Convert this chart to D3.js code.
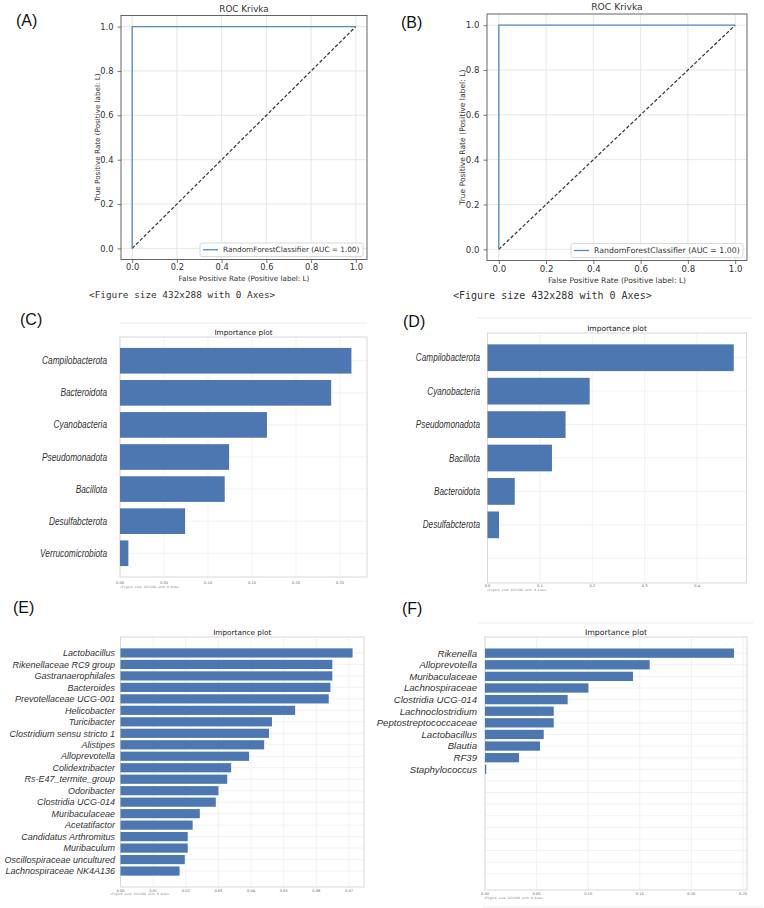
<!DOCTYPE html>
<meta charset="utf-8">
<html>
<head>
<script src="https://cdnjs.cloudflare.com/ajax/libs/d3/7.8.5/d3.min.js"></script>
<style>
  body { margin: 0; background: #fff; }
</style>
</head>
<body>
<div id="fig"></div>
<script>

// ---- data ----
// ROC curve (identical in A and B: a perfect classifier)
var rocFpr = [0, 0, 1];
var rocTpr = [0, 1, 1];
var rocTicks = [0, 0.2, 0.4, 0.6, 0.8, 1.0];
var rocLegend = "RandomForestClassifier (AUC = 1.00)";
var rocTitle = "ROC Krivka";
var figNote = "<Figure size 432x288 with 0 Axes>";

// C: phyla importance
var phylaC = ["Campilobacterota", "Bacteroidota", "Cyanobacteria", "Pseudomonadota",
              "Bacillota", "Desulfabcterota", "Verrucomicrobiota"];
var importanceC = [0.263, 0.240, 0.167, 0.124, 0.119, 0.074, 0.0095];
var ticksC = [0, 0.05, 0.10, 0.15, 0.20, 0.25];

// D: phyla importance (7 slots, last one empty)
var phylaD = ["Campilobacterota", "Cyanobacteria", "Pseudomonadota", "Bacillota",
              "Bacteroidota", "Desulfabcterota"];
var importanceD = [0.470, 0.195, 0.149, 0.123, 0.052, 0.022];
var ticksD = [0, 0.1, 0.2, 0.3, 0.4];

// E: genera importance
var generaE = ["Lactobacillus", "Rikenellaceae RC9 group", "Gastranaerophilales", "Bacteroides",
               "Prevotellaceae UCG-001", "Helicobacter", "Turicibacter", "Clostridium sensu stricto 1",
               "Alistipes", "Alloprevotella", "Colidextribacter", "Rs-E47_termite_group",
               "Odoribacter", "Clostridia UCG-014", "Muribaculaceae", "Acetatifactor",
               "Candidatus Arthromitus", "Muribaculum", "Oscillospiraceae uncultured",
               "Lachnospiraceae NK4A136"];
var importanceE = [0.0711, 0.0649, 0.0649, 0.0643, 0.0638, 0.0535, 0.0464, 0.0455, 0.0440, 0.0394,
                   0.0339, 0.0327, 0.0300, 0.0292, 0.0243, 0.0221, 0.0206, 0.0206, 0.0197, 0.0181];
var ticksE = [0, 0.01, 0.02, 0.03, 0.04, 0.05, 0.06, 0.07];

// F: genera importance (20 slots, 11 used)
var generaF = ["Rikenella", "Alloprevotella", "Muribaculaceae", "Lachnospiraceae", "Clostridia UCG-014",
               "Lachnoclostridium", "Peptostreptococcaceae", "Lactobacillus", "Blautia", "RF39",
               "Staphylococcus"];
var importanceF = [0.2413, 0.1596, 0.1434, 0.1002, 0.0801, 0.0666, 0.0666, 0.0569, 0.0533, 0.0330, 0.0012];
var ticksF = [0, 0.05, 0.10, 0.15, 0.20, 0.25];

// ---- drawing ----
var W = 764, H = 908;
var barColor = "#4c77b0";
var rocColor = "#5289bb";

var svg = d3.select("#fig").append("svg")
  .attr("width", W).attr("height", H)
  .style("background-color", "#fff");

function panelLetter(txt, x, y) {
  svg.append("text").attr("x", x).attr("y", y)
    .attr("font-family", "Liberation Sans, Arial, sans-serif")
    .attr("font-size", 16).attr("fill", "#111")
    .text(txt);
}

function drawRoc(p) {
  var x = d3.scaleLinear().domain([-0.05, 1.05]).range([p.left, p.right]);
  var y = d3.scaleLinear().domain([-0.05, 1.05]).range([p.bottom, p.top]);
  var g = svg.append("g");
  var font = "DejaVu Sans, sans-serif";

  // grid
  g.selectAll(".gx").data(rocTicks).enter().append("line")
    .attr("x1", function(d){ return x(d); }).attr("x2", function(d){ return x(d); })
    .attr("y1", p.top).attr("y2", p.bottom)
    .attr("stroke", "#dfe7df").attr("stroke-width", 0.9);
  g.selectAll(".gy").data(rocTicks).enter().append("line")
    .attr("y1", function(d){ return y(d); }).attr("y2", function(d){ return y(d); })
    .attr("x1", p.left).attr("x2", p.right)
    .attr("stroke", "#dfe7df").attr("stroke-width", 0.9);

  // axes
  var xa = g.append("g").attr("transform", "translate(0," + p.bottom + ")")
    .call(d3.axisBottom(x).tickValues(rocTicks).tickFormat(d3.format(".1f")).tickSize(3.5).tickPadding(1.5));
  var ya = g.append("g").attr("transform", "translate(" + p.left + ",0)")
    .call(d3.axisLeft(y).tickValues(rocTicks).tickFormat(d3.format(".1f")).tickSize(3.5).tickPadding(4));
  [xa, ya].forEach(function(a) {
    a.select(".domain").remove();
    a.selectAll("line").attr("stroke", "#555").attr("stroke-width", 0.8);
    a.selectAll("text").attr("font-family", font).attr("font-size", p.tickFs).attr("fill", "#333");
  });

  // frame
  g.append("rect").attr("x", p.left).attr("y", p.top)
    .attr("width", p.right - p.left).attr("height", p.bottom - p.top)
    .attr("fill", "none").attr("stroke", "#555").attr("stroke-width", 0.9);

  // chance line
  g.append("line").attr("x1", x(0)).attr("y1", y(0)).attr("x2", x(1)).attr("y2", y(1))
    .attr("stroke", "#333").attr("stroke-width", 1.2).attr("stroke-dasharray", "3.5,2");

  // roc curve
  var pts = rocFpr.map(function(d, i){ return [d, rocTpr[i]]; });
  g.append("path").datum(pts)
    .attr("d", d3.line().x(function(d){ return x(d[0]); }).y(function(d){ return y(d[1]); }))
    .attr("fill", "none").attr("stroke", rocColor).attr("stroke-width", 1.3);

  // legend
  var lg = g.append("g").attr("transform", "translate(" + p.legX + "," + p.legY + ")");
  lg.append("rect").attr("width", p.legW).attr("height", p.legH).attr("rx", 2)
    .attr("fill", "#fff").attr("fill-opacity", 0.85).attr("stroke", "#cfcfcf").attr("stroke-width", 0.8);
  lg.append("line").attr("x1", 3).attr("x2", 18).attr("y1", p.legH / 2).attr("y2", p.legH / 2)
    .attr("stroke", rocColor).attr("stroke-width", 1.3);
  lg.append("text").attr("x", 23).attr("y", p.legH / 2).attr("dy", "0.35em")
    .attr("font-family", font).attr("font-size", p.legFs).attr("fill", "#333")
    .text(rocLegend);

  // title and labels
  var cx = (p.left + p.right) / 2;
  g.append("text").attr("x", cx).attr("y", p.titleY).attr("text-anchor", "middle")
    .attr("font-family", font).attr("font-size", p.titleFs).attr("fill", "#333").text(rocTitle);
  g.append("text").attr("x", cx).attr("y", p.xlabY).attr("text-anchor", "middle").attr("dy", "0.35em")
    .attr("font-family", font).attr("font-size", p.labFs).attr("fill", "#333")
    .text("False Positive Rate (Positive label: L)");
  g.append("text").attr("transform", "translate(" + p.ylabX + "," + ((p.top + p.bottom) / 2) + ") rotate(-90)")
    .attr("text-anchor", "middle").attr("dy", "0.35em")
    .attr("font-family", font).attr("font-size", p.labFs).attr("fill", "#333")
    .text("True Positive Rate (Positive label: L)");

  g.append("text").attr("x", p.noteX).attr("y", p.noteY).attr("dy", "0.35em")
    .attr("font-family", "DejaVu Sans Mono, monospace").attr("font-size", p.noteFs).attr("fill", "#333")
    .text(figNote);
}

function drawImportance(p) {
  var n = p.slots;
  var y = d3.scaleBand().domain(d3.range(n)).range([p.top, p.bottom])
    .paddingInner(0.2).paddingOuter(0.05 * (n - 0.2));
  var x = d3.scaleLinear().domain([0, p.xMax]).range([p.left, p.right]);
  var g = svg.append("g");
  var font = "DejaVu Sans, sans-serif";
  var cx = (p.left + p.right) / 2;

  if (p.lineTop) {
    g.append("line").attr("x1", p.lineTop[0]).attr("x2", p.lineTop[1])
      .attr("y1", p.lineTop[2]).attr("y2", p.lineTop[2])
      .attr("stroke", "#ececec").attr("stroke-width", 1);
  }

  g.append("text").attr("x", cx).attr("y", p.top - 1.8).attr("text-anchor", "middle")
    .attr("font-family", font).attr("font-size", p.titleFs).attr("fill", "#222")
    .text("Importance plot");

  // grid
  g.selectAll(".gx").data(p.ticks).enter().append("line")
    .attr("x1", function(d){ return x(d); }).attr("x2", function(d){ return x(d); })
    .attr("y1", p.top).attr("y2", p.bottom)
    .attr("stroke", "#ececec").attr("stroke-width", 0.7);
  g.selectAll(".gy").data(d3.range(n)).enter().append("line")
    .attr("y1", function(d){ return y(d) + y.bandwidth() / 2; })
    .attr("y2", function(d){ return y(d) + y.bandwidth() / 2; })
    .attr("x1", p.left).attr("x2", p.right)
    .attr("stroke", "#ececec").attr("stroke-width", 0.7);

  g.append("rect").attr("x", p.left).attr("y", p.top)
    .attr("width", p.right - p.left).attr("height", p.bottom - p.top)
    .attr("fill", "none").attr("stroke", "#d8d8d8").attr("stroke-width", 1);

  // bars
  g.selectAll(".bar").data(p.values).enter().append("rect")
    .attr("x", x(0))
    .attr("y", function(d, i){ return y(i); })
    .attr("width", function(d){ return x(d) - x(0); })
    .attr("height", y.bandwidth())
    .attr("fill", barColor);

  // category labels
  g.selectAll(".lab").data(p.names).enter().append("text")
    .attr("transform", function(d, i){
      return "translate(" + p.labX + "," + (y(i) + y.bandwidth() / 2) + ") scale(" + p.labSx + ",1)";
    })
    .attr("text-anchor", "end").attr("dy", "0.35em")
    .attr("font-family", "Liberation Sans, Arial, sans-serif").attr("font-style", "italic")
    .attr("font-size", p.labFs).attr("fill", "#333")
    .text(function(d){ return d; });

  // tiny tick labels
  g.selectAll(".tk").data(p.ticks).enter().append("text")
    .attr("x", function(d){ return x(d); }).attr("y", p.bottom + p.tickGap)
    .attr("text-anchor", "middle")
    .attr("font-family", font).attr("font-size", 3.6).attr("fill", "#666")
    .text(function(d){ return d3.format(p.fmt)(d); });

  g.append("text").attr("x", p.noteX).attr("y", p.noteY)
    .attr("font-family", "DejaVu Sans Mono, monospace").attr("font-size", 3).attr("fill", "#888")
    .text(figNote);

  if (p.lineBottom) {
    g.append("line").attr("x1", p.lineBottom[0]).attr("x2", p.lineBottom[1])
      .attr("y1", p.lineBottom[2]).attr("y2", p.lineBottom[2])
      .attr("stroke", "#ececec").attr("stroke-width", 1);
  }
}

// A
panelLetter("(A)", 16, 26);
drawRoc({ left: 121, right: 367, top: 15.5, bottom: 259.5,
  tickFs: 8.3, labFs: 7.2, titleFs: 8.8, legFs: 7.3,
  legX: 200, legY: 243, legW: 163, legH: 13.5,
  titleY: 11.5, xlabY: 278, ylabX: 97,
  noteX: 89, noteY: 295, noteFs: 9.4 });

// B
panelLetter("(B)", 401, 28);
drawRoc({ left: 487, right: 747, top: 14, bottom: 260.5,
  tickFs: 8.6, labFs: 7.6, titleFs: 9.2, legFs: 7.8,
  legX: 571, legY: 243.5, legW: 172, legH: 14,
  titleY: 9.5, xlabY: 280, ylabX: 462,
  noteX: 453, noteY: 295, noteFs: 10 });

// C
panelLetter("(C)", 20, 325);
drawImportance({ names: phylaC, values: importanceC, ticks: ticksC, slots: 7, fmt: ".2f",
  left: 120, right: 367, top: 337, bottom: 577, xMax: 0.2807,
  titleFs: 7.3, labX: 107, labFs: 10, labSx: 0.83, tickGap: 6.5,
  noteX: 120, noteY: 588, lineTop: [120, 367, 323] });

// D
panelLetter("(D)", 403, 327);
drawImportance({ names: phylaD, values: importanceD, ticks: ticksD, slots: 7, fmt: ".1f",
  left: 487.5, right: 746.5, top: 333, bottom: 583, xMax: 0.4943,
  titleFs: 7.5, labX: 480, labFs: 10, labSx: 0.82, tickGap: 3.5,
  noteX: 487, noteY: 591, lineTop: [477, 752, 318] });

// E
panelLetter("(E)", 13, 613);
drawImportance({ names: generaE, values: importanceE, ticks: ticksE, slots: 20, fmt: ".2f",
  left: 120.5, right: 364, top: 637, bottom: 887, xMax: 0.0746,
  titleFs: 7.3, labX: 115, labFs: 9.2, labSx: 0.98, tickGap: 4.5,
  noteX: 110, noteY: 895 });

// F
panelLetter("(F)", 402, 614);
drawImportance({ names: generaF, values: importanceF, ticks: ticksF, slots: 20, fmt: ".2f",
  left: 485, right: 747, top: 637, bottom: 890, xMax: 0.2539,
  titleFs: 7.8, labX: 477, labFs: 9.6, labSx: 1, tickGap: 4.5,
  noteX: 484, noteY: 899, lineTop: [477, 753, 623], lineBottom: [483, 763, 907] });

</script>
</body>
</html>
